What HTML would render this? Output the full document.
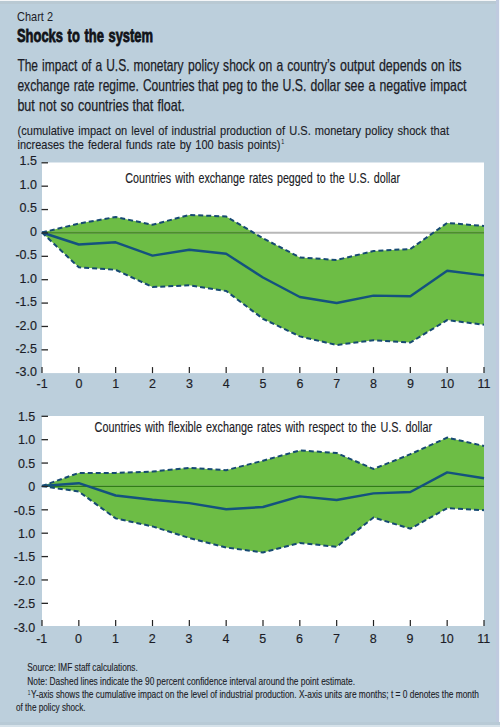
<!DOCTYPE html>
<html><head><meta charset="utf-8"><style>
html,body{margin:0;padding:0;background:#bccfdc;}
svg{display:block;font-family:"Liberation Sans", sans-serif;}
</style></head><body>
<svg width="500" height="727" viewBox="0 0 500 727">
<rect x="0" y="0" width="500" height="727" fill="#bccfdc"/>
<rect x="0" y="0" width="500" height="1" fill="#f4f6f8"/>
<rect x="0" y="1" width="500" height="3" fill="#b9c9d3"/>
<rect x="496" y="0" width="3" height="727" fill="#bfcadf"/>
<rect x="499" y="0" width="1" height="727" fill="#f4f8fb"/>
<rect x="0" y="722" width="500" height="3" fill="#b8cad6"/>
<rect x="0" y="725" width="500" height="2" fill="#d6e2ea"/>
<text x="17" y="20.6" font-size="13.6" font-weight="normal" text-anchor="start" fill="#1b1c26" textLength="36.0" lengthAdjust="spacingAndGlyphs">Chart 2</text>
<text x="17" y="41.8" font-size="18" font-weight="bold" text-anchor="start" fill="#111318" textLength="136.0" lengthAdjust="spacingAndGlyphs" stroke="#111318" stroke-width="0.8" word-spacing="1.5">Shocks to the system</text>
<text x="17.4" y="70.5" font-size="16.5" font-weight="normal" text-anchor="start" fill="#1b1c26" textLength="166.1" lengthAdjust="spacingAndGlyphs" stroke="#1b1c26" stroke-width="0.25" word-spacing="1">The impact of a U.S. monetary</text>
<text x="188" y="70.5" font-size="16.5" font-weight="normal" text-anchor="start" fill="#1b1c26" textLength="147.5" lengthAdjust="spacingAndGlyphs" stroke="#1b1c26" stroke-width="0.25" word-spacing="1">policy shock on a country’s</text>
<text x="340" y="70.5" font-size="16.5" font-weight="normal" text-anchor="start" fill="#1b1c26" textLength="121.5" lengthAdjust="spacingAndGlyphs" stroke="#1b1c26" stroke-width="0.25" word-spacing="1">output depends on its</text>
<text x="17.4" y="90.5" font-size="16.5" font-weight="normal" text-anchor="start" fill="#1b1c26" textLength="177.1" lengthAdjust="spacingAndGlyphs" stroke="#1b1c26" stroke-width="0.25" word-spacing="1">exchange rate regime. Countries</text>
<text x="198" y="90.5" font-size="16.5" font-weight="normal" text-anchor="start" fill="#1b1c26" textLength="142.5" lengthAdjust="spacingAndGlyphs" stroke="#1b1c26" stroke-width="0.25" word-spacing="1">that peg to the U.S. dollar</text>
<text x="344.4" y="90.5" font-size="16.5" font-weight="normal" text-anchor="start" fill="#1b1c26" textLength="122.1" lengthAdjust="spacingAndGlyphs" stroke="#1b1c26" stroke-width="0.25" word-spacing="1">see a negative impact</text>
<text x="17.4" y="110.6" font-size="16.5" font-weight="normal" text-anchor="start" fill="#1b1c26" textLength="111.3" lengthAdjust="spacingAndGlyphs" stroke="#1b1c26" stroke-width="0.25" word-spacing="1">but not so countries</text>
<text x="132.4" y="110.6" font-size="16.5" font-weight="normal" text-anchor="start" fill="#1b1c26" textLength="52.4" lengthAdjust="spacingAndGlyphs" stroke="#1b1c26" stroke-width="0.25" word-spacing="1">that float.</text>
<text x="17.5" y="134.6" font-size="12.8" font-weight="normal" text-anchor="start" fill="#1b1c26" textLength="431.5" lengthAdjust="spacingAndGlyphs" stroke="#1b1c26" stroke-width="0.12" word-spacing="1.2">(cumulative impact on level of industrial production of U.S. monetary policy shock that</text>
<text x="17.5" y="148.6" font-size="12.8" font-weight="normal" text-anchor="start" fill="#1b1c26" textLength="263.0" lengthAdjust="spacingAndGlyphs" stroke="#1b1c26" stroke-width="0.12" word-spacing="1.2">increases the federal funds rate by 100 basis points)</text>
<text x="281.2" y="143.6" font-size="7.8" font-weight="normal" text-anchor="start" fill="#1b1c26" textLength="3.0" lengthAdjust="spacingAndGlyphs">1</text>
<rect x="42.0" y="162.5" width="442.0" height="210.6" fill="#ffffff"/>
<polygon points="42.00,232.50 78.83,223.60 115.67,217.00 152.50,224.80 189.33,214.90 226.17,216.50 263.00,238.20 299.83,257.40 336.67,260.00 373.50,251.00 410.33,249.00 447.17,222.90 484.00,226.00 484.00,324.80 447.17,320.10 410.33,342.50 373.50,340.20 336.67,345.00 299.83,336.40 263.00,318.80 226.17,291.00 189.33,285.30 152.50,287.00 115.67,269.80 78.83,267.30 42.00,232.50" fill="#6dbd45"/>
<clipPath id="band0"><polygon points="42.00,232.50 78.83,223.60 115.67,217.00 152.50,224.80 189.33,214.90 226.17,216.50 263.00,238.20 299.83,257.40 336.67,260.00 373.50,251.00 410.33,249.00 447.17,222.90 484.00,226.00 484.00,324.80 447.17,320.10 410.33,342.50 373.50,340.20 336.67,345.00 299.83,336.40 263.00,318.80 226.17,291.00 189.33,285.30 152.50,287.00 115.67,269.80 78.83,267.30 42.00,232.50"/></clipPath>
<line x1="42.0" y1="232.8" x2="484.0" y2="232.8" stroke="#b8b8b8" stroke-width="2"/>
<line x1="42.0" y1="232.8" x2="484.0" y2="232.8" stroke="#4b902a" stroke-width="2" clip-path="url(#band0)"/>
<polyline points="42.00,232.50 78.83,223.60 115.67,217.00 152.50,224.80 189.33,214.90 226.17,216.50 263.00,238.20 299.83,257.40 336.67,260.00 373.50,251.00 410.33,249.00 447.17,222.90 484.00,226.00" fill="none" stroke="#164a72" stroke-width="2" stroke-dasharray="5 3"/>
<polyline points="42.00,232.50 78.83,267.30 115.67,269.80 152.50,287.00 189.33,285.30 226.17,291.00 263.00,318.80 299.83,336.40 336.67,345.00 373.50,340.20 410.33,342.50 447.17,320.10 484.00,324.80" fill="none" stroke="#164a72" stroke-width="2" stroke-dasharray="5 3"/>
<polyline points="42.00,232.50 78.83,244.50 115.67,242.30 152.50,255.60 189.33,249.80 226.17,253.80 263.00,277.50 299.83,297.00 336.67,303.00 373.50,295.60 410.33,296.20 447.17,270.70 484.00,275.40" fill="none" stroke="#14527e" stroke-width="2.4" stroke-linejoin="round"/>
<line x1="41.5" y1="162.80" x2="48.0" y2="162.80" stroke="#262626" stroke-width="1.3"/>
<text x="37" y="165.40" font-size="12.5" font-weight="normal" text-anchor="end" fill="#1b1c26" stroke="#1b1c26" stroke-width="0.15">1.5</text>
<line x1="41.5" y1="186.18" x2="48.0" y2="186.18" stroke="#262626" stroke-width="1.3"/>
<text x="37" y="188.85" font-size="12.5" font-weight="normal" text-anchor="end" fill="#1b1c26" stroke="#1b1c26" stroke-width="0.15">1.0</text>
<line x1="41.5" y1="209.56" x2="48.0" y2="209.56" stroke="#262626" stroke-width="1.3"/>
<text x="37" y="212.30" font-size="12.5" font-weight="normal" text-anchor="end" fill="#1b1c26" stroke="#1b1c26" stroke-width="0.15">0.5</text>
<line x1="41.5" y1="232.94" x2="48.0" y2="232.94" stroke="#262626" stroke-width="1.3"/>
<text x="37" y="235.75" font-size="12.5" font-weight="normal" text-anchor="end" fill="#1b1c26" stroke="#1b1c26" stroke-width="0.15">0</text>
<line x1="41.5" y1="256.32" x2="48.0" y2="256.32" stroke="#262626" stroke-width="1.3"/>
<text x="37" y="259.20" font-size="12.5" font-weight="normal" text-anchor="end" fill="#1b1c26" stroke="#1b1c26" stroke-width="0.15">-0.5</text>
<line x1="41.5" y1="279.70" x2="48.0" y2="279.70" stroke="#262626" stroke-width="1.3"/>
<text x="37" y="282.65" font-size="12.5" font-weight="normal" text-anchor="end" fill="#1b1c26" stroke="#1b1c26" stroke-width="0.15">1.0</text>
<line x1="41.5" y1="303.08" x2="48.0" y2="303.08" stroke="#262626" stroke-width="1.3"/>
<text x="37" y="306.10" font-size="12.5" font-weight="normal" text-anchor="end" fill="#1b1c26" stroke="#1b1c26" stroke-width="0.15">-1.5</text>
<line x1="41.5" y1="326.46" x2="48.0" y2="326.46" stroke="#262626" stroke-width="1.3"/>
<text x="37" y="329.55" font-size="12.5" font-weight="normal" text-anchor="end" fill="#1b1c26" stroke="#1b1c26" stroke-width="0.15">-2.0</text>
<line x1="41.5" y1="349.84" x2="48.0" y2="349.84" stroke="#262626" stroke-width="1.3"/>
<text x="37" y="353.00" font-size="12.5" font-weight="normal" text-anchor="end" fill="#1b1c26" stroke="#1b1c26" stroke-width="0.15">-2.5</text>
<text x="37" y="376.45" font-size="12.5" font-weight="normal" text-anchor="end" fill="#1b1c26" stroke="#1b1c26" stroke-width="0.15">-3.0</text>
<line x1="42.00" y1="367.1" x2="42.00" y2="373.1" stroke="#222" stroke-width="1.2"/>
<text x="42.10" y="388.4" font-size="12.5" font-weight="normal" text-anchor="middle" fill="#1b1c26" stroke="#1b1c26" stroke-width="0.15">-1</text>
<line x1="78.83" y1="367.1" x2="78.83" y2="373.1" stroke="#222" stroke-width="1.2"/>
<text x="78.93" y="388.4" font-size="12.5" font-weight="normal" text-anchor="middle" fill="#1b1c26" stroke="#1b1c26" stroke-width="0.15">0</text>
<line x1="115.67" y1="367.1" x2="115.67" y2="373.1" stroke="#222" stroke-width="1.2"/>
<text x="115.77" y="388.4" font-size="12.5" font-weight="normal" text-anchor="middle" fill="#1b1c26" stroke="#1b1c26" stroke-width="0.15">1</text>
<line x1="152.50" y1="367.1" x2="152.50" y2="373.1" stroke="#222" stroke-width="1.2"/>
<text x="152.60" y="388.4" font-size="12.5" font-weight="normal" text-anchor="middle" fill="#1b1c26" stroke="#1b1c26" stroke-width="0.15">2</text>
<line x1="189.33" y1="367.1" x2="189.33" y2="373.1" stroke="#222" stroke-width="1.2"/>
<text x="189.43" y="388.4" font-size="12.5" font-weight="normal" text-anchor="middle" fill="#1b1c26" stroke="#1b1c26" stroke-width="0.15">3</text>
<line x1="226.17" y1="367.1" x2="226.17" y2="373.1" stroke="#222" stroke-width="1.2"/>
<text x="226.27" y="388.4" font-size="12.5" font-weight="normal" text-anchor="middle" fill="#1b1c26" stroke="#1b1c26" stroke-width="0.15">4</text>
<line x1="263.00" y1="367.1" x2="263.00" y2="373.1" stroke="#222" stroke-width="1.2"/>
<text x="263.10" y="388.4" font-size="12.5" font-weight="normal" text-anchor="middle" fill="#1b1c26" stroke="#1b1c26" stroke-width="0.15">5</text>
<line x1="299.83" y1="367.1" x2="299.83" y2="373.1" stroke="#222" stroke-width="1.2"/>
<text x="299.93" y="388.4" font-size="12.5" font-weight="normal" text-anchor="middle" fill="#1b1c26" stroke="#1b1c26" stroke-width="0.15">6</text>
<line x1="336.67" y1="367.1" x2="336.67" y2="373.1" stroke="#222" stroke-width="1.2"/>
<text x="336.77" y="388.4" font-size="12.5" font-weight="normal" text-anchor="middle" fill="#1b1c26" stroke="#1b1c26" stroke-width="0.15">7</text>
<line x1="373.50" y1="367.1" x2="373.50" y2="373.1" stroke="#222" stroke-width="1.2"/>
<text x="373.60" y="388.4" font-size="12.5" font-weight="normal" text-anchor="middle" fill="#1b1c26" stroke="#1b1c26" stroke-width="0.15">8</text>
<line x1="410.33" y1="367.1" x2="410.33" y2="373.1" stroke="#222" stroke-width="1.2"/>
<text x="410.43" y="388.4" font-size="12.5" font-weight="normal" text-anchor="middle" fill="#1b1c26" stroke="#1b1c26" stroke-width="0.15">9</text>
<line x1="447.17" y1="367.1" x2="447.17" y2="373.1" stroke="#222" stroke-width="1.2"/>
<text x="447.27" y="388.4" font-size="12.5" font-weight="normal" text-anchor="middle" fill="#1b1c26" stroke="#1b1c26" stroke-width="0.15">10</text>
<line x1="484.00" y1="367.1" x2="484.00" y2="373.1" stroke="#222" stroke-width="1.2"/>
<text x="484.10" y="388.4" font-size="12.5" font-weight="normal" text-anchor="middle" fill="#1b1c26" stroke="#1b1c26" stroke-width="0.15">11</text>
<text x="125.3" y="183.1" font-size="14.5" font-weight="normal" text-anchor="start" fill="#1b1c26" textLength="274.7" lengthAdjust="spacingAndGlyphs" word-spacing="1.5" stroke="#1b1c26" stroke-width="0.15">Countries with exchange rates pegged to the U.S. dollar</text>
<rect x="42.0" y="416.0" width="442.0" height="210.0" fill="#ffffff"/>
<polygon points="42.00,486.00 78.83,472.90 115.67,472.90 152.50,471.60 189.33,467.80 226.17,470.20 263.00,460.70 299.83,450.40 336.67,453.00 373.50,469.00 410.33,454.20 447.17,437.60 484.00,446.00 484.00,510.20 447.17,508.20 410.33,528.70 373.50,517.50 336.67,546.80 299.83,542.90 263.00,552.50 226.17,547.50 189.33,538.00 152.50,526.40 115.67,518.40 78.83,491.60 42.00,486.00" fill="#6dbd45"/>
<clipPath id="band1"><polygon points="42.00,486.00 78.83,472.90 115.67,472.90 152.50,471.60 189.33,467.80 226.17,470.20 263.00,460.70 299.83,450.40 336.67,453.00 373.50,469.00 410.33,454.20 447.17,437.60 484.00,446.00 484.00,510.20 447.17,508.20 410.33,528.70 373.50,517.50 336.67,546.80 299.83,542.90 263.00,552.50 226.17,547.50 189.33,538.00 152.50,526.40 115.67,518.40 78.83,491.60 42.00,486.00"/></clipPath>
<line x1="42.0" y1="486.4" x2="484.0" y2="486.4" stroke="#b8b8b8" stroke-width="1.2"/>
<line x1="42.0" y1="486.4" x2="484.0" y2="486.4" stroke="#2f7d16" stroke-width="1.3" clip-path="url(#band1)"/>
<polyline points="42.00,486.00 78.83,472.90 115.67,472.90 152.50,471.60 189.33,467.80 226.17,470.20 263.00,460.70 299.83,450.40 336.67,453.00 373.50,469.00 410.33,454.20 447.17,437.60 484.00,446.00" fill="none" stroke="#164a72" stroke-width="2" stroke-dasharray="5 3"/>
<polyline points="42.00,486.00 78.83,491.60 115.67,518.40 152.50,526.40 189.33,538.00 226.17,547.50 263.00,552.50 299.83,542.90 336.67,546.80 373.50,517.50 410.33,528.70 447.17,508.20 484.00,510.20" fill="none" stroke="#164a72" stroke-width="2" stroke-dasharray="5 3"/>
<polyline points="42.00,486.00 78.83,483.20 115.67,495.50 152.50,499.80 189.33,503.10 226.17,509.30 263.00,507.00 299.83,496.40 336.67,500.00 373.50,493.40 410.33,492.00 447.17,472.40 484.00,478.30" fill="none" stroke="#14527e" stroke-width="2.4" stroke-linejoin="round"/>
<line x1="41.5" y1="416.30" x2="48.0" y2="416.30" stroke="#262626" stroke-width="1.3"/>
<text x="35.3" y="420.90" font-size="12.5" font-weight="normal" text-anchor="end" fill="#1b1c26" stroke="#1b1c26" stroke-width="0.15">1.5</text>
<line x1="41.5" y1="439.68" x2="48.0" y2="439.68" stroke="#262626" stroke-width="1.3"/>
<text x="35.3" y="444.33" font-size="12.5" font-weight="normal" text-anchor="end" fill="#1b1c26" stroke="#1b1c26" stroke-width="0.15">1.0</text>
<line x1="41.5" y1="463.06" x2="48.0" y2="463.06" stroke="#262626" stroke-width="1.3"/>
<text x="35.3" y="467.76" font-size="12.5" font-weight="normal" text-anchor="end" fill="#1b1c26" stroke="#1b1c26" stroke-width="0.15">0.5</text>
<line x1="41.5" y1="486.44" x2="48.0" y2="486.44" stroke="#262626" stroke-width="1.3"/>
<text x="35.3" y="491.19" font-size="12.5" font-weight="normal" text-anchor="end" fill="#1b1c26" stroke="#1b1c26" stroke-width="0.15">0</text>
<line x1="41.5" y1="509.82" x2="48.0" y2="509.82" stroke="#262626" stroke-width="1.3"/>
<text x="35.3" y="514.62" font-size="12.5" font-weight="normal" text-anchor="end" fill="#1b1c26" stroke="#1b1c26" stroke-width="0.15">-0.5</text>
<line x1="41.5" y1="533.20" x2="48.0" y2="533.20" stroke="#262626" stroke-width="1.3"/>
<text x="35.3" y="538.05" font-size="12.5" font-weight="normal" text-anchor="end" fill="#1b1c26" stroke="#1b1c26" stroke-width="0.15">1.0</text>
<line x1="41.5" y1="556.58" x2="48.0" y2="556.58" stroke="#262626" stroke-width="1.3"/>
<text x="35.3" y="561.48" font-size="12.5" font-weight="normal" text-anchor="end" fill="#1b1c26" stroke="#1b1c26" stroke-width="0.15">-1.5</text>
<line x1="41.5" y1="579.96" x2="48.0" y2="579.96" stroke="#262626" stroke-width="1.3"/>
<text x="35.3" y="584.91" font-size="12.5" font-weight="normal" text-anchor="end" fill="#1b1c26" stroke="#1b1c26" stroke-width="0.15">-2.0</text>
<line x1="41.5" y1="603.34" x2="48.0" y2="603.34" stroke="#262626" stroke-width="1.3"/>
<text x="35.3" y="608.34" font-size="12.5" font-weight="normal" text-anchor="end" fill="#1b1c26" stroke="#1b1c26" stroke-width="0.15">-2.5</text>
<text x="35.3" y="631.77" font-size="12.5" font-weight="normal" text-anchor="end" fill="#1b1c26" stroke="#1b1c26" stroke-width="0.15">-3.0</text>
<line x1="42.00" y1="620.0" x2="42.00" y2="626.0" stroke="#222" stroke-width="1.2"/>
<text x="41.70" y="642.8" font-size="12.5" font-weight="normal" text-anchor="middle" fill="#1b1c26" stroke="#1b1c26" stroke-width="0.15">-1</text>
<line x1="78.83" y1="620.0" x2="78.83" y2="626.0" stroke="#222" stroke-width="1.2"/>
<text x="78.53" y="642.8" font-size="12.5" font-weight="normal" text-anchor="middle" fill="#1b1c26" stroke="#1b1c26" stroke-width="0.15">0</text>
<line x1="115.67" y1="620.0" x2="115.67" y2="626.0" stroke="#222" stroke-width="1.2"/>
<text x="115.37" y="642.8" font-size="12.5" font-weight="normal" text-anchor="middle" fill="#1b1c26" stroke="#1b1c26" stroke-width="0.15">1</text>
<line x1="152.50" y1="620.0" x2="152.50" y2="626.0" stroke="#222" stroke-width="1.2"/>
<text x="152.20" y="642.8" font-size="12.5" font-weight="normal" text-anchor="middle" fill="#1b1c26" stroke="#1b1c26" stroke-width="0.15">2</text>
<line x1="189.33" y1="620.0" x2="189.33" y2="626.0" stroke="#222" stroke-width="1.2"/>
<text x="189.03" y="642.8" font-size="12.5" font-weight="normal" text-anchor="middle" fill="#1b1c26" stroke="#1b1c26" stroke-width="0.15">3</text>
<line x1="226.17" y1="620.0" x2="226.17" y2="626.0" stroke="#222" stroke-width="1.2"/>
<text x="225.87" y="642.8" font-size="12.5" font-weight="normal" text-anchor="middle" fill="#1b1c26" stroke="#1b1c26" stroke-width="0.15">4</text>
<line x1="263.00" y1="620.0" x2="263.00" y2="626.0" stroke="#222" stroke-width="1.2"/>
<text x="262.70" y="642.8" font-size="12.5" font-weight="normal" text-anchor="middle" fill="#1b1c26" stroke="#1b1c26" stroke-width="0.15">5</text>
<line x1="299.83" y1="620.0" x2="299.83" y2="626.0" stroke="#222" stroke-width="1.2"/>
<text x="299.53" y="642.8" font-size="12.5" font-weight="normal" text-anchor="middle" fill="#1b1c26" stroke="#1b1c26" stroke-width="0.15">6</text>
<line x1="336.67" y1="620.0" x2="336.67" y2="626.0" stroke="#222" stroke-width="1.2"/>
<text x="336.37" y="642.8" font-size="12.5" font-weight="normal" text-anchor="middle" fill="#1b1c26" stroke="#1b1c26" stroke-width="0.15">7</text>
<line x1="373.50" y1="620.0" x2="373.50" y2="626.0" stroke="#222" stroke-width="1.2"/>
<text x="373.20" y="642.8" font-size="12.5" font-weight="normal" text-anchor="middle" fill="#1b1c26" stroke="#1b1c26" stroke-width="0.15">8</text>
<line x1="410.33" y1="620.0" x2="410.33" y2="626.0" stroke="#222" stroke-width="1.2"/>
<text x="410.03" y="642.8" font-size="12.5" font-weight="normal" text-anchor="middle" fill="#1b1c26" stroke="#1b1c26" stroke-width="0.15">9</text>
<line x1="447.17" y1="620.0" x2="447.17" y2="626.0" stroke="#222" stroke-width="1.2"/>
<text x="446.87" y="642.8" font-size="12.5" font-weight="normal" text-anchor="middle" fill="#1b1c26" stroke="#1b1c26" stroke-width="0.15">10</text>
<line x1="484.00" y1="620.0" x2="484.00" y2="626.0" stroke="#222" stroke-width="1.2"/>
<text x="483.70" y="642.8" font-size="12.5" font-weight="normal" text-anchor="middle" fill="#1b1c26" stroke="#1b1c26" stroke-width="0.15">11</text>
<text x="94.6" y="432" font-size="14.5" font-weight="normal" text-anchor="start" fill="#1b1c26" textLength="337.4" lengthAdjust="spacingAndGlyphs" word-spacing="1.5" stroke="#1b1c26" stroke-width="0.15">Countries with flexible exchange rates with respect to the U.S. dollar</text>
<text x="27.3" y="670.6" font-size="10.6" font-weight="normal" text-anchor="start" fill="#1b1c26" textLength="110.5" lengthAdjust="spacingAndGlyphs" stroke="#1b1c26" stroke-width="0.12">Source: IMF staff calculations.</text>
<text x="27.3" y="684.5" font-size="10.6" font-weight="normal" text-anchor="start" fill="#1b1c26" textLength="327.7" lengthAdjust="spacingAndGlyphs" stroke="#1b1c26" stroke-width="0.12">Note: Dashed lines indicate the 90 percent confidence interval around the point estimate.</text>
<text x="27.8" y="694.8" font-size="7" font-weight="normal" text-anchor="start" fill="#1b1c26" textLength="2.6" lengthAdjust="spacingAndGlyphs">1</text>
<text x="31.1" y="698" font-size="10.6" font-weight="normal" text-anchor="start" fill="#1b1c26" textLength="447.9" lengthAdjust="spacingAndGlyphs" stroke="#1b1c26" stroke-width="0.12">Y-axis shows the cumulative impact on the level of industrial production. X-axis units are months; t = 0 denotes the month</text>
<text x="16" y="711" font-size="10.6" font-weight="normal" text-anchor="start" fill="#1b1c26" textLength="69.5" lengthAdjust="spacingAndGlyphs" stroke="#1b1c26" stroke-width="0.12">of the policy shock.</text>
</svg>
</body></html>
